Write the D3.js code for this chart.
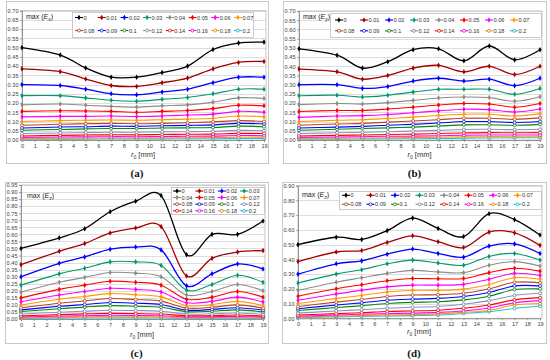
<!DOCTYPE html>
<html>
<head>
<meta charset="utf-8">
<script src="https://cdn.jsdelivr.net/npm/d3@7"></script>
<style>
  body { margin: 0; background: #fff; }
  svg { display: block; font-family: "Liberation Sans", Arial, sans-serif; }
</style>
</head>
<body>
<svg id="chart" width="550" height="360"></svg>
<script>
// r0 positions where points were computed
const xValues = [0, 3, 5, 7, 9, 11, 13, 15, 17, 19];
const seriesNames = ["0", "0.01", "0.02", "0.03", "0.04", "0.05", "0.06", "0.07",
  "0.08", "0.09", "0.1", "0.12", "0.14", "0.16", "0.18", "0.2"];
const seriesColors = ["#000000", "#a50000", "#0000ff", "#00996b", "#8c8c8c", "#ff0000", "#ff00ff", "#ff9900",
  "#b8461e", "#0000ff", "#008a00", "#8f8fc8", "#ff0000", "#ff00ff", "#ff9900", "#19c6e0"];
const xTicks = d3.range(0, 20);

// (a)
const valuesA = [
  [0.50, 0.46, 0.39, 0.34, 0.34, 0.365, 0.40, 0.49, 0.525, 0.53],
  [0.385, 0.37, 0.33, 0.295, 0.29, 0.31, 0.335, 0.385, 0.42, 0.425],
  [0.30, 0.295, 0.275, 0.25, 0.245, 0.26, 0.275, 0.31, 0.34, 0.34],
  [0.24, 0.24, 0.228, 0.215, 0.21, 0.22, 0.23, 0.25, 0.275, 0.275],
  [0.19, 0.195, 0.188, 0.182, 0.178, 0.185, 0.19, 0.205, 0.228, 0.225],
  [0.155, 0.158, 0.157, 0.155, 0.15, 0.155, 0.16, 0.17, 0.188, 0.185],
  [0.125, 0.128, 0.128, 0.13, 0.127, 0.13, 0.135, 0.14, 0.155, 0.15],
  [0.10, 0.105, 0.107, 0.108, 0.107, 0.11, 0.113, 0.118, 0.13, 0.125],
  [0.08, 0.085, 0.088, 0.09, 0.088, 0.09, 0.093, 0.098, 0.105, 0.10],
  [0.065, 0.07, 0.072, 0.075, 0.074, 0.077, 0.079, 0.082, 0.09, 0.087],
  [0.053, 0.057, 0.06, 0.062, 0.062, 0.065, 0.066, 0.068, 0.075, 0.072],
  [0.035, 0.038, 0.04, 0.042, 0.042, 0.044, 0.045, 0.047, 0.052, 0.05],
  [0.022, 0.025, 0.027, 0.028, 0.028, 0.03, 0.031, 0.032, 0.036, 0.035],
  [0.014, 0.016, 0.017, 0.018, 0.018, 0.019, 0.02, 0.021, 0.024, 0.023],
  [0.008, 0.009, 0.01, 0.011, 0.011, 0.012, 0.012, 0.013, 0.015, 0.014],
  [0.004, 0.005, 0.005, 0.006, 0.006, 0.006, 0.007, 0.007, 0.008, 0.008]
];

// (b)
const valuesB = [
  [0.495, 0.46, 0.39, 0.425, 0.49, 0.495, 0.43, 0.51, 0.435, 0.49],
  [0.385, 0.37, 0.33, 0.35, 0.39, 0.405, 0.37, 0.40, 0.355, 0.40],
  [0.30, 0.30, 0.28, 0.29, 0.32, 0.335, 0.32, 0.33, 0.295, 0.335],
  [0.24, 0.243, 0.233, 0.243, 0.26, 0.275, 0.275, 0.275, 0.248, 0.28],
  [0.192, 0.198, 0.195, 0.203, 0.215, 0.228, 0.233, 0.23, 0.21, 0.235],
  [0.155, 0.16, 0.16, 0.168, 0.178, 0.19, 0.198, 0.195, 0.178, 0.198],
  [0.123, 0.13, 0.132, 0.138, 0.148, 0.158, 0.167, 0.165, 0.152, 0.168],
  [0.10, 0.107, 0.11, 0.117, 0.124, 0.133, 0.14, 0.14, 0.13, 0.143],
  [0.08, 0.087, 0.09, 0.097, 0.103, 0.11, 0.118, 0.118, 0.112, 0.12],
  [0.065, 0.07, 0.074, 0.08, 0.085, 0.092, 0.10, 0.10, 0.095, 0.10],
  [0.053, 0.058, 0.062, 0.066, 0.07, 0.076, 0.082, 0.083, 0.08, 0.085],
  [0.035, 0.039, 0.042, 0.045, 0.048, 0.052, 0.057, 0.058, 0.056, 0.058],
  [0.022, 0.025, 0.027, 0.03, 0.032, 0.035, 0.038, 0.04, 0.039, 0.04],
  [0.014, 0.016, 0.018, 0.02, 0.021, 0.023, 0.026, 0.027, 0.027, 0.027],
  [0.008, 0.01, 0.011, 0.012, 0.013, 0.015, 0.017, 0.018, 0.018, 0.018],
  [0.004, 0.005, 0.006, 0.007, 0.007, 0.008, 0.01, 0.011, 0.012, 0.012]
];

// (c)
const valuesC = [
  [0.50, 0.575, 0.64, 0.76, 0.835, 0.875, 0.455, 0.60, 0.60, 0.695],
  [0.385, 0.48, 0.535, 0.61, 0.645, 0.655, 0.305, 0.43, 0.475, 0.485],
  [0.30, 0.395, 0.44, 0.495, 0.51, 0.49, 0.235, 0.32, 0.39, 0.355],
  [0.24, 0.32, 0.36, 0.405, 0.405, 0.38, 0.205, 0.245, 0.31, 0.26],
  [0.19, 0.26, 0.295, 0.33, 0.325, 0.30, 0.17, 0.195, 0.245, 0.20],
  [0.15, 0.21, 0.24, 0.268, 0.26, 0.24, 0.14, 0.155, 0.195, 0.155],
  [0.122, 0.17, 0.195, 0.218, 0.21, 0.192, 0.115, 0.125, 0.155, 0.12],
  [0.10, 0.14, 0.16, 0.18, 0.172, 0.157, 0.095, 0.102, 0.125, 0.095],
  [0.08, 0.112, 0.128, 0.145, 0.138, 0.127, 0.078, 0.083, 0.10, 0.077],
  [0.065, 0.09, 0.103, 0.117, 0.112, 0.103, 0.063, 0.068, 0.08, 0.062],
  [0.053, 0.073, 0.084, 0.095, 0.09, 0.083, 0.052, 0.055, 0.065, 0.05],
  [0.035, 0.048, 0.055, 0.062, 0.06, 0.055, 0.035, 0.037, 0.043, 0.033],
  [0.022, 0.031, 0.036, 0.04, 0.038, 0.035, 0.023, 0.024, 0.028, 0.021],
  [0.014, 0.02, 0.023, 0.026, 0.025, 0.023, 0.015, 0.016, 0.018, 0.014],
  [0.008, 0.012, 0.014, 0.016, 0.015, 0.014, 0.009, 0.01, 0.011, 0.008],
  [0.004, 0.006, 0.007, 0.008, 0.008, 0.007, 0.005, 0.005, 0.006, 0.004]
];

// (d)
const valuesD = [
  [0.50, 0.55, 0.535, 0.595, 0.68, 0.61, 0.555, 0.71, 0.67, 0.565],
  [0.385, 0.45, 0.46, 0.515, 0.56, 0.52, 0.48, 0.585, 0.58, 0.495],
  [0.30, 0.37, 0.39, 0.435, 0.47, 0.44, 0.415, 0.49, 0.505, 0.44],
  [0.24, 0.30, 0.33, 0.37, 0.395, 0.375, 0.36, 0.42, 0.44, 0.395],
  [0.19, 0.245, 0.275, 0.305, 0.325, 0.315, 0.31, 0.36, 0.385, 0.355],
  [0.15, 0.20, 0.228, 0.255, 0.27, 0.268, 0.27, 0.31, 0.34, 0.32],
  [0.122, 0.165, 0.19, 0.213, 0.225, 0.225, 0.23, 0.265, 0.305, 0.29],
  [0.10, 0.135, 0.155, 0.178, 0.19, 0.19, 0.198, 0.23, 0.275, 0.265],
  [0.08, 0.11, 0.128, 0.148, 0.158, 0.16, 0.17, 0.20, 0.245, 0.24],
  [0.065, 0.09, 0.105, 0.122, 0.13, 0.135, 0.148, 0.175, 0.22, 0.22],
  [0.053, 0.073, 0.085, 0.10, 0.108, 0.112, 0.125, 0.15, 0.195, 0.20],
  [0.035, 0.05, 0.058, 0.068, 0.075, 0.08, 0.095, 0.12, 0.155, 0.17],
  [0.022, 0.032, 0.038, 0.046, 0.05, 0.055, 0.068, 0.09, 0.125, 0.14],
  [0.014, 0.022, 0.027, 0.032, 0.035, 0.04, 0.05, 0.07, 0.105, 0.12],
  [0.008, 0.015, 0.018, 0.022, 0.025, 0.03, 0.04, 0.055, 0.09, 0.10],
  [0.004, 0.01, 0.013, 0.016, 0.018, 0.022, 0.033, 0.045, 0.067, 0.083]
];

const yTicksA = d3.range(0, 0.7001, 0.05);
const yTicksC = d3.range(0, 0.9501, 0.05);
const yTicksD = d3.range(0, 0.9001, 0.1);

const panels = [
  { values: valuesA, sub: "x", tag: "(a)", yMax: 0.7, yTicks: yTicksA,
    frame: [6, 1, 262, 162], plot: [22, 264, 10.7, 140], titleY: 157, tagY: 177,
    maxLabel: [26, 19],
    legend: { box: [72, 12, 181, 25], x0: 75, dx: 22.7, rows: [17.5, 30.5], cols: 8 } },
  { values: valuesB, sub: "y", tag: "(b)", yMax: 0.7, yTicks: yTicksA,
    frame: [283, 1, 263, 162], plot: [299, 540, 11, 140], titleY: 157, tagY: 177,
    maxLabel: [303, 19],
    legend: { box: [330, 13, 211, 24], x0: 335, dx: 25, rows: [20, 30.8], cols: 8 } },
  { values: valuesC, sub: "z", tag: "(c)", yMax: 0.95, yTicks: yTicksC,
    frame: [5, 182, 263, 161], plot: [21, 263, 185, 319], titleY: 337, tagY: 357,
    maxLabel: [27, 198],
    legend: { box: [171, 187, 93, 27], x0: 173, dx: 22.4, rows: [191, 197.5, 204.2, 210.8], cols: 4 } },
  { values: valuesD, sub: "z", tag: "(d)", yMax: 0.9, yTicks: yTicksD,
    frame: [282, 182, 264, 161], plot: [298, 540, 185.7, 318.3], titleY: 334, tagY: 357,
    maxLabel: [302, 197],
    legend: { box: [339, 191, 202, 18], x0: 342, dx: 24.5, rows: [195.3, 204.3], cols: 8 } }
];

const svg = d3.select("#chart");
const fmt = d3.format(".2f");

function drawMarker(g, i, cx, cy) {
  const col = seriesColors[i];
  if (i < 8) {
    g.append("path")
      .attr("d", d3.symbol(d3.symbolDiamond, 9)())
      .attr("transform", `translate(${cx},${cy})`)
      .attr("fill", col);
  } else {
    g.append("circle")
      .attr("cx", cx).attr("cy", cy).attr("r", 1.5)
      .attr("fill", "#fff")
      .attr("stroke", d3.color(col).darker(0.8))
      .attr("stroke-width", 0.7);
  }
}

panels.forEach((p) => {
  const [fx, fy, fw, fh] = p.frame;
  const [l, r, t, b] = p.plot;
  const g = svg.append("g");

  g.append("rect")
    .attr("x", fx + 0.5).attr("y", fy + 0.5)
    .attr("width", fw).attr("height", fh)
    .attr("fill", "#fff").attr("stroke", "#c8c8c8");

  const x = d3.scaleLinear().domain([0, 19]).range([l, r]);
  const y = d3.scaleLinear().domain([0, p.yMax]).range([b, t]);

  // grid
  g.append("g").selectAll("line")
    .data(p.yTicks)
    .join("line")
    .attr("x1", l).attr("x2", r + 2)
    .attr("y1", (d) => Math.round(y(d)) + 0.5).attr("y2", (d) => Math.round(y(d)) + 0.5)
    .attr("stroke", "#d4d4d4").attr("stroke-width", 0.8);

  g.append("rect")
    .attr("x", l).attr("y", t)
    .attr("width", r + 2 - l).attr("height", b - t)
    .attr("fill", "none").attr("stroke", "#b0b0b0").attr("stroke-width", 0.7);

  const yAxis = d3.axisLeft(y).tickValues(p.yTicks).tickFormat(fmt).tickSize(2).tickPadding(1.5);
  const ya = g.append("g").attr("transform", `translate(${l},0)`).call(yAxis);
  const xAxis = d3.axisBottom(x).tickValues(xTicks).tickFormat(d3.format("d")).tickSize(2).tickPadding(2);
  const xa = g.append("g").attr("transform", `translate(0,${b})`).call(xAxis);
  [ya, xa].forEach((a) => {
    a.select(".domain").attr("stroke", "#808080").attr("stroke-width", 0.8);
    a.selectAll(".tick line").attr("stroke", "#808080").attr("stroke-width", 0.7);
    a.selectAll("text").attr("font-size", 5.6).attr("fill", "#404040");
  });

  // axis title
  const title = g.append("text")
    .attr("x", (l + r) / 2).attr("y", p.titleY)
    .attr("text-anchor", "middle")
    .attr("font-size", 7.5).attr("fill", "#333");
  title.append("tspan").attr("font-style", "italic").text("r");
  title.append("tspan").attr("font-size", 5).attr("dy", 1.5).text("0");
  title.append("tspan").attr("dy", -1.5).text(" [mm]");

  // max label
  const ml = g.append("text")
    .attr("x", p.maxLabel[0]).attr("y", p.maxLabel[1])
    .attr("font-size", 7).attr("fill", "#222");
  ml.append("tspan").text("max (");
  ml.append("tspan").attr("font-style", "italic").text("E");
  ml.append("tspan").attr("font-style", "italic").attr("font-size", 5).attr("dy", 1.5).text(p.sub);
  ml.append("tspan").attr("dy", -1.5).text(")");

  // series (Excel-style smoothed lines)
  const line = d3.line()
    .x((d) => x(d[0]))
    .y((d) => y(d[1]))
    .curve(d3.curveCardinal.tension(0));

  for (let i = p.values.length - 1; i >= 0; i--) {
    const pts = xValues.map((xv, k) => [xv, p.values[i][k]]);
    g.append("path")
      .attr("d", line(pts))
      .attr("fill", "none")
      .attr("stroke", seriesColors[i])
      .attr("stroke-width", i < 3 ? 1.3 : 1.1);
    pts.forEach((d) => drawMarker(g, i, x(d[0]), y(d[1])));
  }

  // legend
  const lg = p.legend;
  g.append("rect")
    .attr("x", lg.box[0] + 0.5).attr("y", lg.box[1] + 0.5)
    .attr("width", lg.box[2]).attr("height", lg.box[3])
    .attr("fill", "#fff").attr("stroke", "#b4b4b4").attr("stroke-width", 0.7);
  seriesNames.forEach((name, i) => {
    const cx = lg.x0 + (i % lg.cols) * lg.dx;
    const cy = lg.rows[Math.floor(i / lg.cols)];
    g.append("line")
      .attr("x1", cx).attr("x2", cx + 8)
      .attr("y1", cy).attr("y2", cy)
      .attr("stroke", seriesColors[i]).attr("stroke-width", 1.1);
    drawMarker(g, i, cx + 4, cy);
    g.append("text")
      .attr("x", cx + 8.5).attr("y", cy + 2)
      .attr("font-size", 5.6).attr("fill", "#333")
      .text(name);
  });

  // panel tag
  svg.append("text")
    .attr("x", (fx + fx + fw) / 2).attr("y", p.tagY)
    .attr("text-anchor", "middle")
    .attr("font-family", "Liberation Serif, Times New Roman, serif")
    .attr("font-size", 11).attr("font-weight", "bold").attr("fill", "#111")
    .text(p.tag);
});
</script>
</body>
</html>
